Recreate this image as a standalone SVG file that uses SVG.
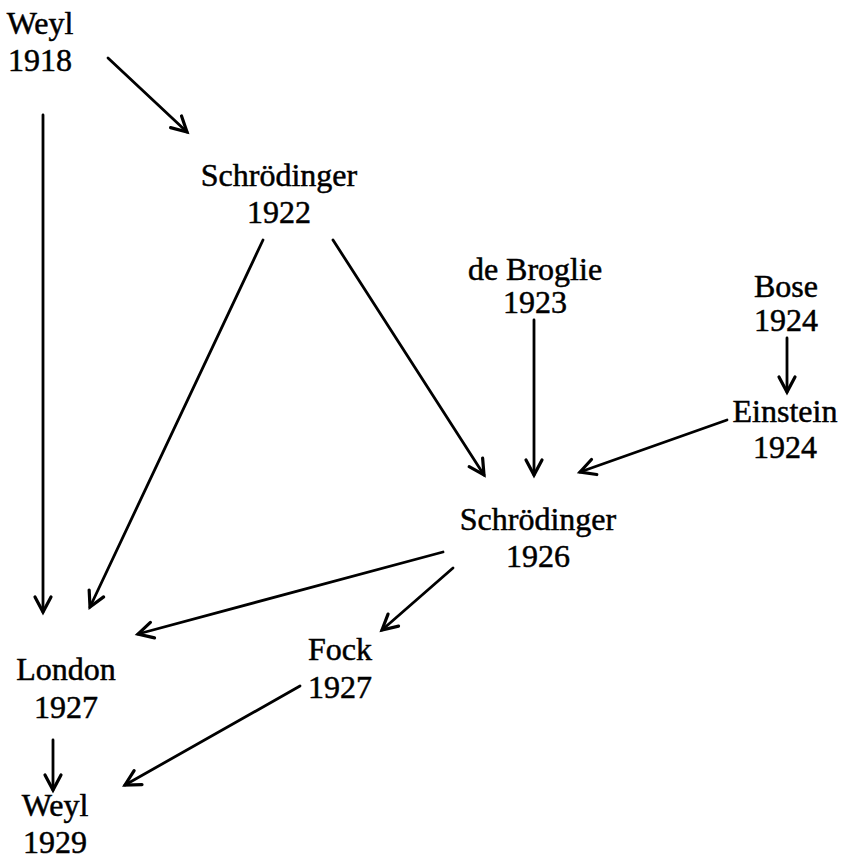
<svg xmlns="http://www.w3.org/2000/svg" width="843" height="861" viewBox="0 0 843 861">
<defs>
<style>
.t{font-family:"Liberation Serif","Times New Roman",serif;font-size:32px;fill:#000;stroke:#000;stroke-width:0.5;text-anchor:middle}
.c line{stroke:#000;stroke-width:2.8;stroke-linecap:round;marker-end:url(#ah)}
</style>
<marker id="ah" markerUnits="userSpaceOnUse" viewBox="-18 -11 20 22" markerWidth="20" markerHeight="22" refX="0" refY="0" orient="auto" overflow="visible">
<path d="M-15,-8 L0,0 L-15,8" fill="none" stroke="#000" stroke-width="3.2" stroke-linecap="round" stroke-linejoin="miter"/>
</marker>
</defs>
<rect width="843" height="861" fill="#fff"/>
<g id="weyl1918"><text class="t" x="40" y="34">Weyl</text><text class="t" x="40" y="71">1918</text></g>
<g id="schr1922"><text class="t" x="279" y="186">Schrödinger</text><text class="t" x="279" y="223">1922</text></g>
<g id="debroglie1923"><text class="t" x="535" y="280">de Broglie</text><text class="t" x="535" y="313">1923</text></g>
<g id="bose1924"><text class="t" x="786" y="297">Bose</text><text class="t" x="786" y="331">1924</text></g>
<g id="einstein1924"><text class="t" x="785" y="422">Einstein</text><text class="t" x="785" y="458">1924</text></g>
<g id="schr1926"><text class="t" x="538" y="530">Schrödinger</text><text class="t" x="538" y="567">1926</text></g>
<g id="london1927"><text class="t" x="66" y="680">London</text><text class="t" x="66" y="718">1927</text></g>
<g id="fock1927"><text class="t" x="340" y="660">Fock</text><text class="t" x="340" y="698">1927</text></g>
<g id="weyl1929"><text class="t" x="55" y="816">Weyl</text><text class="t" x="55" y="853">1929</text></g>
<g id="connectors" class="c">
<line x1="108" y1="58" x2="187" y2="132"/>
<line x1="43" y1="115" x2="43" y2="612"/>
<line x1="263" y1="240" x2="90" y2="607"/>
<line x1="333" y1="240" x2="484" y2="475"/>
<line x1="534" y1="320" x2="534" y2="475"/>
<line x1="787" y1="338" x2="787" y2="392"/>
<line x1="727" y1="420" x2="580" y2="472"/>
<line x1="443" y1="552" x2="138" y2="634"/>
<line x1="453" y1="568" x2="382" y2="630"/>
<line x1="300" y1="686" x2="125" y2="785"/>
<line x1="53" y1="740" x2="53" y2="790"/>
</g>
</svg>
